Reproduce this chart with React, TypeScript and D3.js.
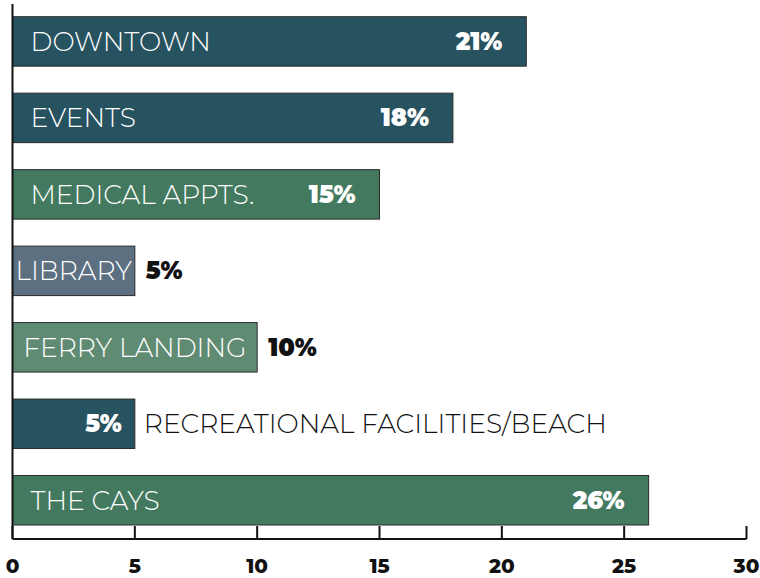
import React, { useEffect, useRef } from 'react';
import * as d3 from 'd3';

const categories = ['DOWNTOWN', 'EVENTS', 'MEDICAL APPTS.', 'LIBRARY', 'FERRY LANDING', 'RECREATIONAL FACILITIES/BEACH', 'THE CAYS'];
const values = [21, 18, 15, 5, 10, 5, 26];
const colors = ['#27525f', '#27525f', '#437a5f', '#5c7082', '#5f8b73', '#27525f', '#437a5f'];
// where each bar puts its texts: both inside, value outside, or name outside
const labelModes = ['inside', 'inside', 'inside', 'valueOut', 'valueOut', 'nameOut', 'inside'];
const xTicks = [0, 5, 10, 15, 20, 25, 30];

const width = 760;
const height = 578;
const nameFont = 'Montserrat, Lato, "Open Sans", sans-serif';
const boldFont = 'Montserrat, Lato, "Open Sans", sans-serif';

export default function App() {
  const ref = useRef<SVGSVGElement>(null);

  useEffect(() => {
    const svg = d3.select(ref.current);
    svg.selectAll('*').remove();

    const x = d3.scaleLinear().domain([0, 30]).range([12.5, 746.5]);
    const y = d3.scaleBand<string>()
      .domain(categories)
      .range([16.7, 525])
      .paddingInner(0.353)
      .paddingOuter(0);

    const rows = categories.map((c, i) => ({ name: c, value: values[i], color: colors[i], mode: labelModes[i] }));

    const g = svg.append('g');

    g.selectAll('rect')
      .data(rows)
      .enter()
      .append('rect')
      .attr('x', x(0))
      .attr('y', d => y(d.name)!)
      .attr('width', d => x(d.value) - x(0))
      .attr('height', y.bandwidth())
      .attr('fill', d => d.color)
      .attr('stroke', '#2b2b2b')
      .attr('stroke-width', 1);

    rows.forEach(d => {
      const cy = y(d.name)! + y.bandwidth() / 2;
      const x0 = x(0);
      const x1 = x(d.value);
      if (d.mode === 'nameOut') {
        g.append('text')
          .attr('x', x1 - 13)
          .attr('y', cy + 8.5)
          .attr('text-anchor', 'end')
          .attr('font-family', boldFont)
          .attr('font-weight', 900)
          .attr('font-size', 24)
          .attr('fill', '#fff')
          .text(d.value + '%');
        g.append('text')
          .attr('x', x1 + 9)
          .attr('y', cy + 9.5)
          .attr('font-family', nameFont)
          .attr('font-weight', 300)
          .attr('font-size', 26.5)
          .attr('fill', '#111')
          .text(d.name);
        return;
      }
      const name = g.append('text')
        .attr('y', cy + 9.5)
        .attr('font-family', nameFont)
        .attr('font-weight', 300)
        .attr('font-size', 26.5)
        .attr('fill', '#fff')
        .text(d.name);
      const tw = (name.node() as SVGTextElement).getComputedTextLength();
      const pad = Math.min(18, (x1 - x0 - tw) / 2);
      name.attr('x', x0 + pad);

      g.append('text')
        .attr('x', d.mode === 'inside' ? x1 - 24 : x1 + 11)
        .attr('y', cy + 8.5)
        .attr('text-anchor', d.mode === 'inside' ? 'end' : 'start')
        .attr('font-family', boldFont)
        .attr('font-weight', 900)
        .attr('font-size', 24)
        .attr('fill', d.mode === 'inside' ? '#fff' : '#111')
        .text(d.value + '%');
    });

    // axes drawn by hand: ticks point up from the base line
    const axisY = 539;
    g.append('line')
      .attr('x1', x(0)).attr('x2', x(0))
      .attr('y1', 4).attr('y2', axisY)
      .attr('stroke', '#111').attr('stroke-width', 2);
    g.append('line')
      .attr('x1', x(0)).attr('x2', x(30))
      .attr('y1', axisY).attr('y2', axisY)
      .attr('stroke', '#111').attr('stroke-width', 2);
    g.selectAll('.tick')
      .data(xTicks)
      .enter()
      .append('line')
      .attr('x1', d => x(d)).attr('x2', d => x(d))
      .attr('y1', axisY - 13).attr('y2', axisY)
      .attr('stroke', '#111').attr('stroke-width', 2);
    g.selectAll('.tickLabel')
      .data(xTicks)
      .enter()
      .append('text')
      .attr('x', d => x(d))
      .attr('y', 573)
      .attr('text-anchor', 'middle')
      .attr('font-family', boldFont)
      .attr('font-weight', 800)
      .attr('font-size', 20)
      .attr('fill', '#111')
      .text(d => String(d));
  }, []);

  return (
    <svg ref={ref} width={width} height={height} style={{ position: 'absolute', left: 0, top: 0 }} />
  );
}
